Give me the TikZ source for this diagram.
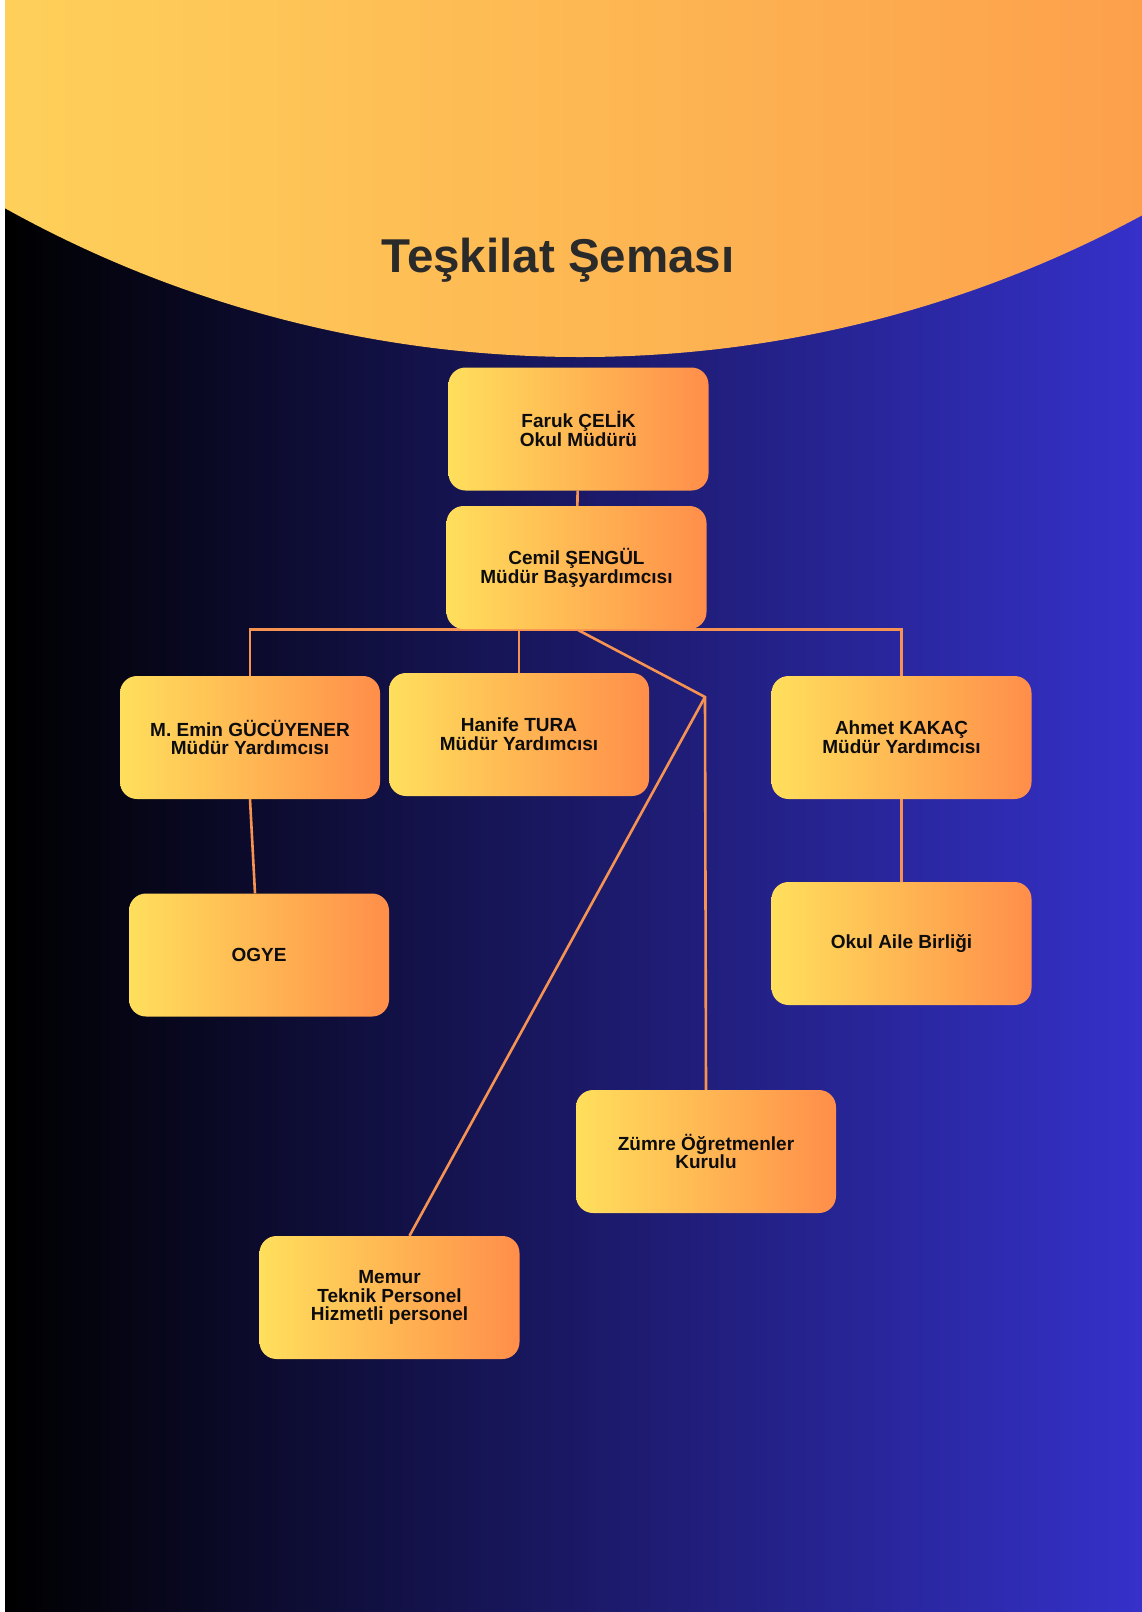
\documentclass[tikz,border=0pt]{standalone}
\usepackage{fontspec}
\setmainfont{Liberation Sans}

\definecolor{boxyellow}{RGB}{255,223,92}
\definecolor{boxorange}{RGB}{255,142,74}
\definecolor{linkorange}{RGB}{246,147,82}
\definecolor{nightblue}{RGB}{53,49,202}
\definecolor{capyellow}{RGB}{254,208,90}
\definecolor{caporange}{RGB}{253,160,76}
\definecolor{titlegray}{RGB}{42,42,42}

\pgfdeclarelayer{bg}
\pgfdeclarelayer{lines}
\pgfsetlayers{bg,lines,main}

\tikzset{
    box/.style={rounded corners=17pt, minimum width=260pt, minimum height=123pt,
        left color=boxyellow, right color=boxorange, align=center, text=black!95,
        font=\bfseries\fontsize{19}{18.8}\selectfont},
    link/.style={draw=linkorange, line width=2.6pt}
}

\begin{document}
\begin{tikzpicture}[x=1pt, y=-1pt]
    \useasboundingbox (0,0) rectangle (1142,1612);

    % background and the orange cap
    \begin{pgfonlayer}{bg}
        \fill[white] (0,0) rectangle (1142,1612);
        \shade[left color=black, right color=nightblue] (5,0) rectangle (1142,1612);
        \begin{scope}
            \clip (5,0) rectangle (1142,1612);
            \clip (580,-827) circle (1184);
            \shade[left color=capyellow, right color=caporange] (5,0) rectangle (1142,400);
        \end{scope}
    \end{pgfonlayer}

    \node[anchor=base, text=titlegray, font=\bfseries\fontsize{47.5}{50}\selectfont] (title) at (558,272) {Teşkilat Şeması};

    \node[box] (faruk) at (578.5,429) {Faruk ÇELİK\\Okul Müdürü};
    \node[box] (cemil) at (576.5,567.5) {Cemil ŞENGÜL\\Müdür Başyardımcısı};
    \node[box] (emin) at (250,737.5) {M. Emin GÜCÜYENER\\Müdür Yardımcısı};
    \node[box] (hanife) at (519,734.5) {Hanife TURA\\Müdür Yardımcısı};
    \node[box] (ahmet) at (901.5,737.5) {Ahmet KAKAÇ\\Müdür Yardımcısı};
    \node[box] (ogye) at (259,955) {OGYE};
    \node[box] (aile) at (901.5,943.5) {Okul Aile Birliği};
    \node[box] (zumre) at (706,1151.5) {Zümre Öğretmenler\\Kurulu};
    \node[box] (memur) at (389.5,1297.5) {Memur\\Teknik Personel\\Hizmetli personel};

    \coordinate (split) at (705,697);

    \begin{pgfonlayer}{lines}
        \draw[link] (faruk) -- (cemil);
        \draw[link] (emin.north) -- (emin.north |- cemil.south) -- (ahmet.north |- cemil.south) -- (ahmet.north);
        \draw[link] (hanife.north) -- (hanife.north |- cemil.south);
        \draw[link] (cemil.south) -- (split) -- (zumre.north);
        \draw[link] (split) -- ([xshift=20pt]memur.north);
        \draw[link] (emin.south) -- ([xshift=-4pt]ogye.north);
        \draw[link] (ahmet) -- (aile);
    \end{pgfonlayer}
\end{tikzpicture}
\end{document}
